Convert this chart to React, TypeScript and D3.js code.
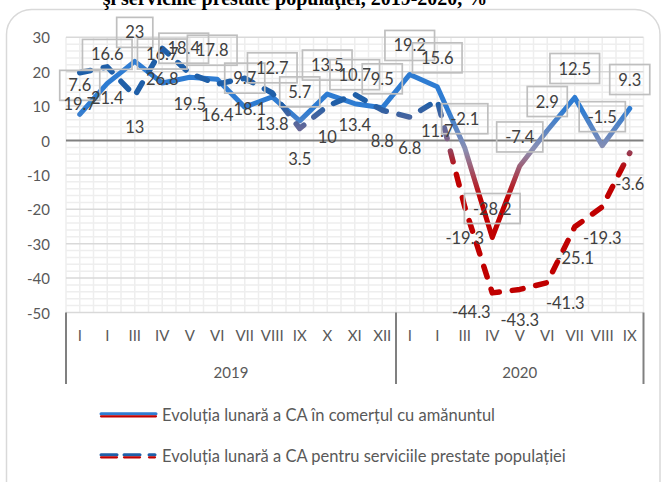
import React, { useEffect, useRef } from "react";
import * as d3 from "d3";

const months2019 = ["I", "I", "III", "IV", "V", "VI", "VII", "VIII", "IX", "X", "XI", "XII"];
const months2020 = ["I", "I", "III", "IV", "V", "VI", "VII", "VIII", "IX"];
const years = ["2019", "2020"];
const retail = [7.6, 16.6, 23, 16.7, 18.4, 17.8, 9.7, 12.7, 5.7, 13.5, 10.7, 9.5, 19.2, 15.6, -2.1, -28.2, -7.4, 2.9, 12.5, -1.5, 9.3];
const services = [19.7, 21.4, 13, 26.8, 19.5, 16.4, 18.1, 13.8, 3.5, 10, 13.4, 8.8, 6.8, 11.7, -19.3, -44.3, -43.3, -41.3, -25.1, -19.3, -3.6];
const yTicks = [30, 20, 10, 0, -10, -20, -30, -40, -50];
const titleText = "şi serviciile prestate populaţiei, 2019-2020, %";
const legendLabels = [
  "Evoluția lunară a CA în comerțul cu amănuntul",
  "Evoluția lunară a CA pentru serviciile prestate populației",
];

// label nudges (dx, dy in px), styling only
const retailNudge: Record<number, [number, number]> = { 4: [-6, 0], 5: [-5, 0] };
const servicesNudge: Record<number, [number, number]> = { 6: [5, 0], 15: [-21, -12], 17: [18, -11] };

export default function App() {
  const ref = useRef<SVGSVGElement>(null);
  useEffect(() => {
    const svg = d3.select(ref.current);
    svg.selectAll("*").remove();
    const font = "Lato, 'Open Sans', sans-serif";
    const months = [...months2019, ...months2020];
    const cats = d3.range(retail.length);
    const x = d3.scaleBand<number>().domain(cats).range([66, 643.5]);
    const bw = x.bandwidth();
    const cx = (i: number) => (x(i) as number) + bw / 2;
    const y = d3.scaleLinear().domain([-50, 30]).range([312.5, 37.3]);

    // chart border
    svg.append("rect").attr("x", 6.5).attr("y", 9.5).attr("width", 653.5).attr("height", 540)
      .attr("rx", 25).attr("fill", "#fff").attr("stroke", "#D9D9D9").attr("stroke-width", 1.5);

    // title
    svg.append("text").attr("x", 295).attr("y", 5).attr("text-anchor", "middle")
      .attr("font-family", "'Liberation Serif', serif").attr("font-weight", "bold").attr("font-size", 20)
      .attr("fill", "#000").text(titleText);

    const grid = svg.append("g");
    // minor horizontal
    d3.range(-50, 30.001, 2).forEach((v) => {
      if (Math.abs(v % 10) < 1e-9) return;
      grid.append("line").attr("x1", 66).attr("x2", 643.5).attr("y1", y(v)).attr("y2", y(v))
        .attr("stroke", "#EEEEEE").attr("stroke-width", 1.5);
    });
    // vertical gridlines (every half category)
    d3.range(0, cats.length * 2 + 1).forEach((k) => {
      const xv = 66 + (k * bw) / 2;
      grid.append("line").attr("x1", xv).attr("x2", xv).attr("y1", y(30)).attr("y2", y(-50))
        .attr("stroke", "#EEEEEE").attr("stroke-width", 1.5);
    });
    // major horizontal
    yTicks.forEach((v) => {
      if (v === 0) return;
      grid.append("line").attr("x1", 66).attr("x2", 643.5).attr("y1", y(v)).attr("y2", y(v))
        .attr("stroke", "#D9D9D9").attr("stroke-width", 1.5);
    });
    // y labels
    yTicks.forEach((v) => {
      svg.append("text").attr("x", 50).attr("y", y(v)).attr("text-anchor", "end")
        .attr("dominant-baseline", "central").attr("font-family", font).attr("font-size", 15)
        .attr("fill", "#595959").text(String(v));
    });
    // zero line
    svg.append("line").attr("x1", 66).attr("x2", 643.5).attr("y1", y(0)).attr("y2", y(0))
      .attr("stroke", "#808080").attr("stroke-width", 2);

    // category axis
    const sepX = [66, 66 + months2019.length * bw, 643.5];
    sepX.forEach((xv) => {
      svg.append("line").attr("x1", xv).attr("x2", xv).attr("y1", y(-50)).attr("y2", 384)
        .attr("stroke", "#808080").attr("stroke-width", 2);
    });
    months.forEach((m, i) => {
      svg.append("text").attr("x", cx(i)).attr("y", 335).attr("text-anchor", "middle")
        .attr("dominant-baseline", "central").attr("font-family", font).attr("font-size", 15)
        .attr("fill", "#595959").text(m);
    });
    years.forEach((yr, k) => {
      svg.append("text").attr("x", (sepX[k] + sepX[k + 1]) / 2).attr("y", 372).attr("text-anchor", "middle")
        .attr("dominant-baseline", "central").attr("font-family", font).attr("font-size", 15)
        .attr("fill", "#595959").text(yr);
    });

    // gradients
    const defs = svg.append("defs");
    const g1 = defs.append("linearGradient").attr("id", "gRetail").attr("gradientUnits", "userSpaceOnUse")
      .attr("x1", 0).attr("x2", 0).attr("y1", y(9)).attr("y2", y(-17));
    g1.append("stop").attr("offset", 0).attr("stop-color", "#2E7CD2");
    g1.append("stop").attr("offset", 0.45).attr("stop-color", "#8B8FB2");
    g1.append("stop").attr("offset", 1).attr("stop-color", "#C00000");
    const g2 = defs.append("linearGradient").attr("id", "gServ").attr("gradientUnits", "userSpaceOnUse")
      .attr("x1", 0).attr("x2", 0).attr("y1", y(11)).attr("y2", y(-9));
    g2.append("stop").attr("offset", 0).attr("stop-color", "#1F5FA8");
    g2.append("stop").attr("offset", 0.5).attr("stop-color", "#7A6A92");
    g2.append("stop").attr("offset", 1).attr("stop-color", "#C00000");

    const line = d3.line<number>().x((_, i) => cx(i)).y((d) => y(d));
    svg.append("path").attr("d", line(retail)).attr("fill", "none").attr("stroke", "url(#gRetail)")
      .attr("stroke-width", 5).attr("stroke-linejoin", "round").attr("stroke-linecap", "round");
    svg.append("path").attr("d", line(services)).attr("fill", "none").attr("stroke", "url(#gServ)")
      .attr("stroke-width", 5.5).attr("stroke-linejoin", "round").attr("stroke-linecap", "round")
      .attr("stroke-dasharray", "11 13");

    // retail labels with boxes
    retail.forEach((v, i) => {
      const [dx, dy] = retailNudge[i] || [0, 0];
      const tx = cx(i) + dx;
      const ty = y(v) - 29 + dy;
      const t = svg.append("text").attr("x", tx).attr("y", ty).attr("text-anchor", "middle")
        .attr("dominant-baseline", "central").attr("font-family", font).attr("font-size", 16.5)
        .attr("fill", "#404040").text(String(v));
      const w = (t.node() as SVGTextElement).getComputedTextLength();
      svg.insert("rect", "text:last-child").attr("x", tx - w / 2 - 8.5).attr("y", ty - 15).attr("width", w + 17)
        .attr("height", 30).attr("fill", "none").attr("stroke", "#BFBFBF").attr("stroke-width", 1.7);
    });
    // services labels
    services.forEach((v, i) => {
      const [dx, dy] = servicesNudge[i] || [0, 0];
      svg.append("text").attr("x", cx(i) + dx).attr("y", y(v) + 31 + dy).attr("text-anchor", "middle")
        .attr("dominant-baseline", "central").attr("font-family", font).attr("font-size", 16.5)
        .attr("fill", "#404040").text(String(v));
    });

    // legend
    const ly = [415, 456];
    svg.append("line").attr("x1", 101).attr("x2", 156).attr("y1", ly[0] - 1.2).attr("y2", ly[0] - 1.2)
      .attr("stroke", "#2E7CD2").attr("stroke-width", 3).attr("stroke-linecap", "round");
    svg.append("line").attr("x1", 101).attr("x2", 156).attr("y1", ly[0] + 1.3).attr("y2", ly[0] + 1.3)
      .attr("stroke", "#C00000").attr("stroke-width", 2.2).attr("stroke-linecap", "round");
    [[101, 117], [124, 140], [149, 155]].forEach(([a, b]) => {
      svg.append("line").attr("x1", a).attr("x2", b).attr("y1", ly[1] - 1.2).attr("y2", ly[1] - 1.2)
        .attr("stroke", "#1F5FA8").attr("stroke-width", 3).attr("stroke-linecap", "round");
      svg.append("line").attr("x1", a).attr("x2", b).attr("y1", ly[1] + 1.3).attr("y2", ly[1] + 1.3)
        .attr("stroke", "#C00000").attr("stroke-width", 2.2).attr("stroke-linecap", "round");
    });
    legendLabels.forEach((lab, k) => {
      svg.append("text").attr("x", 162).attr("y", ly[k]).attr("dominant-baseline", "central")
        .attr("font-family", font).attr("font-size", 16.5).attr("fill", "#595959").text(lab);
    });
  }, []);
  return (
    <svg ref={ref} width={664} height={482}
      style={{ display: "block", position: "absolute", left: 0, top: 0, background: "#fff" }} />
  );
}
